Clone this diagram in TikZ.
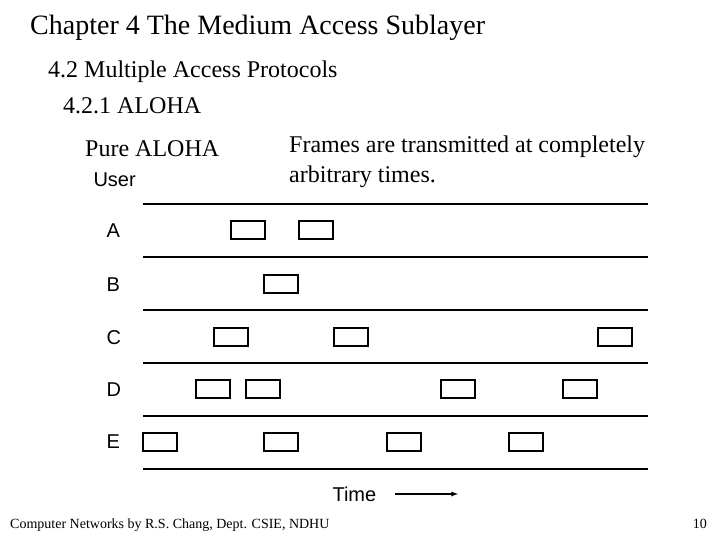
\documentclass[tikz,border=0pt]{standalone}
\usepackage{fontspec}
\setmainfont{Liberation Serif}
\newfontfamily\arial{Liberation Sans}
\begin{document}
\begin{tikzpicture}[x=1pt,y=-1pt,
  frame/.style={draw,line width=1.2pt,minimum width=34pt,minimum height=18pt,inner sep=0pt},
  tl/.style={line width=1.2pt},
  lab/.style={font=\arial\fontsize{20}{22}\selectfont,anchor=west},
  txt/.style={anchor=base west,inner sep=0pt}]
\useasboundingbox (0,0) rectangle (720,540);
\node[txt,font=\fontsize{28}{30}\selectfont] (t1) at (30,35) {Chapter 4 The Medium Access Sublayer};
\node[txt,font=\fontsize{24}{26}\selectfont] (t2) at (48,78) {4.2 Multiple Access Protocols};
\node[txt,font=\fontsize{24}{26}\selectfont] (t3) at (63,114) {4.2.1 ALOHA};
\node[txt,font=\fontsize{24}{26}\selectfont] (t4) at (85,157) {Pure ALOHA};
\node[txt,font=\fontsize{24}{26}\selectfont] (t5) at (289,153) {Frames are transmitted at completely};
\node[txt,font=\fontsize{24}{26}\selectfont] (t6) at (289,183) {arbitrary times.};
\node[lab] (user) at (90,180) {User};
\foreach \y in {204,257,310,363,416,469} \draw[tl] (143,\y) -- (648,\y);
\node[lab] at (103,231) {A};
\node[lab] at (103,285) {B};
\node[lab] at (103,338) {C};
\node[lab] at (103,390) {D};
\node[lab] at (103,442) {E};
\foreach \x in {248,316} \node[frame] at (\x,230) {};
\foreach \x in {281} \node[frame] at (\x,284) {};
\foreach \x in {231,351,615} \node[frame] at (\x,337) {};
\foreach \x in {213,263,458,580} \node[frame] at (\x,389) {};
\foreach \x in {160,281,404,526} \node[frame] at (\x,442) {};
\node[lab] (time) at (329,494) {Time};
\coordinate (tend) at (458,494);
\draw[line width=1.3pt,-latex] (time.east)++(15,0) -- (tend);
\node[txt,font=\fontsize{14}{16}\selectfont] (f1) at (10,528) {Computer Networks by R.S. Chang, Dept. CSIE, NDHU};
\node[txt,font=\fontsize{14}{16}\selectfont,anchor=base east] (f2) at (707,528) {10};
\end{tikzpicture}
\end{document}
